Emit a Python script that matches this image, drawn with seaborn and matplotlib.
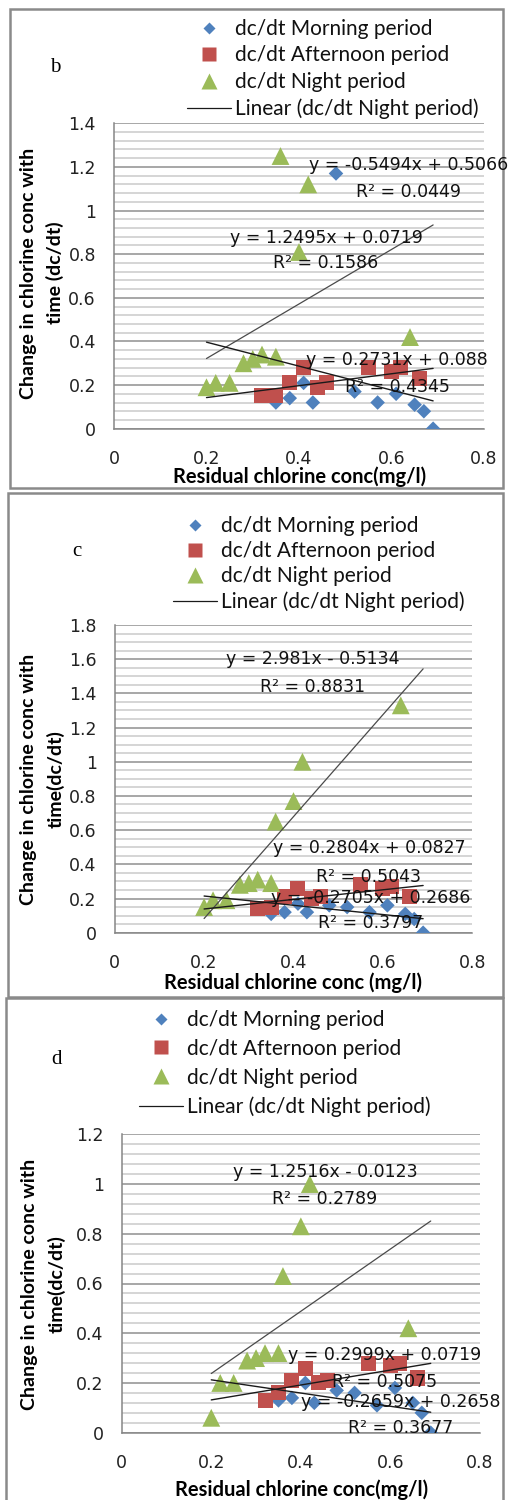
import numpy as np
import matplotlib
matplotlib.use("Agg")
import matplotlib.pyplot as plt
import seaborn as sns
from matplotlib.lines import Line2D
from matplotlib.patches import Rectangle
from matplotlib.ticker import FuncFormatter

sns.set_theme(style="white")
plt.rcParams['font.family'] = ['Lato', 'DejaVu Sans']

# ---------------- data ----------------
morning_x = [0.35, 0.38, 0.41, 0.43, 0.48, 0.52, 0.57, 0.61, 0.65, 0.67, 0.69]
afternoon_x = [0.32, 0.35, 0.38, 0.41, 0.44, 0.46, 0.55, 0.60, 0.62, 0.66]
night_x = [0.20, 0.22, 0.25, 0.28, 0.30, 0.32, 0.35, 0.36, 0.40, 0.42, 0.64]

b_morning = [0.12, 0.14, 0.21, 0.12, 1.17, 0.17, 0.12, 0.16, 0.11, 0.08, 0.00]
b_afternoon = [0.15, 0.15, 0.21, 0.28, 0.19, 0.21, 0.28, 0.26, 0.28, 0.23]
b_night = [0.19, 0.21, 0.21, 0.30, 0.32, 0.34, 0.33, 1.25, 0.81, 1.12, 0.42]

c_morning = [0.11, 0.12, 0.17, 0.12, 0.16, 0.15, 0.12, 0.16, 0.11, 0.08, 0.00]
c_afternoon = [0.14, 0.15, 0.21, 0.26, 0.20, 0.21, 0.28, 0.26, 0.27, 0.21]
c_night = [0.15, 0.19, 0.19, 0.28, 0.29, 0.31, 0.29, 0.65, 0.77, 1.00, 1.33]

d_morning = [0.13, 0.14, 0.20, 0.12, 0.17, 0.16, 0.11, 0.18, 0.12, 0.08, 0.00]
d_afternoon = [0.13, 0.16, 0.21, 0.26, 0.20, 0.21, 0.28, 0.27, 0.28, 0.22]
d_night = [0.06, 0.20, 0.20, 0.29, 0.30, 0.32, 0.32, 0.63, 0.83, 1.00, 0.42]

# trendline equations (slope, intercept) as printed on the chart
b_trend = {"morning": (-0.5494, 0.5066), "afternoon": (0.2731, 0.088), "night": (1.2495, 0.0719)}
c_trend = {"morning": (-0.2705, 0.2686), "afternoon": (0.2804, 0.0827), "night": (2.981, -0.5134)}
d_trend = {"morning": (-0.2659, 0.2658), "afternoon": (0.2999, 0.0719), "night": (1.2516, -0.0123)}
trend_x = [0.20, 0.69]

b_labels = [("y = -0.5494x + 0.5066", "R² = 0.0449"),
            ("y = 1.2495x + 0.0719", "R² = 0.1586"),
            ("y = 0.2731x + 0.088", "R² = 0.4345")]
c_labels = [("y = 2.981x - 0.5134", "R² = 0.8831"),
            ("y = 0.2804x + 0.0827", "R² = 0.5043"),
            ("y = -0.2705x + 0.2686", "R² = 0.3797")]
d_labels = [("y = 1.2516x - 0.0123", "R² = 0.2789"),
            ("y = 0.2999x + 0.0719", "R² = 0.5075"),
            ("y = -0.2659x + 0.2658", "R² = 0.3677")]

legend_labels = ["dc/dt Morning period", "dc/dt Afternoon period",
                 "dc/dt Night period", "Linear (dc/dt Night period)"]
x_ticks = [0, 0.2, 0.4, 0.6, 0.8]

BLUE = "#4F81BD"
RED = "#C0504D"
GREEN = "#9BBB59"

W, H = 512, 1500
fig = plt.figure(figsize=(W / 100, H / 100), dpi=100)


def px_rect(x0, y0, x1, y1):
    return [x0 / W, 1 - y1 / H, (x1 - x0) / W, (y1 - y0) / H]


def ftext(x, y, s, **kw):
    fig.text(x / W, 1 - y / H, s, **kw)


panels = [
    dict(letter="b", rect=(114, 123.3, 484, 428.7), ymax=1.4, minor=0.04,
         m=b_morning, a=b_afternoon, n=b_night, tr=b_trend, labels=b_labels,
         label_pos=[(409, 165, 192), (326, 238, 263), (397, 360, 387)],
         frame=(10, 9, 503, 488), letter_pos=(55, 68),
         leg=(187, 19, 0.31), ylab="Change in chlorine conc with\ntime (dc/dt)",
         ylab_pos=(42, 273), xlab="Residual chlorine conc(mg/l)", xlab_pos=(300, 477)),
    dict(letter="c", rect=(114.7, 625, 472.3, 932.7), ymax=1.8, minor=0.05,
         m=c_morning, a=c_afternoon, n=c_night, tr=c_trend, labels=c_labels,
         label_pos=[(313, 659, 687), (369, 848, 877), (371, 898, 923)],
         frame=(8, 493, 503, 997), letter_pos=(77, 552),
         leg=(173, 516, 0.25), ylab="Change in chlorine conc with\ntime(dc/dt)",
         ylab_pos=(42, 779), xlab="Residual chlorine conc (mg/l)", xlab_pos=(293, 983)),
    dict(letter="d", rect=(121.7, 1134.3, 480, 1432.7), ymax=1.2, minor=0.04,
         m=d_morning, a=d_afternoon, n=d_night, tr=d_trend, labels=d_labels,
         label_pos=[(325, 1172, 1199), (385, 1355, 1382), (401, 1402, 1428)],
         frame=(6, 998, 503, 1510), letter_pos=(57, 1060),
         leg=(139, 1010, 0.42), ylab="Change in chlorine conc with\ntime(dc/dt)",
         ylab_pos=(43, 1284), xlab="Residual chlorine conc(mg/l)", xlab_pos=(302, 1490)),
]

fmt = FuncFormatter(lambda v, p: f"{v:g}")
NUMFONT = ["DejaVu Sans"]

for P in panels:
    fx0, fy0, fx1, fy1 = P["frame"]
    fig.add_artist(Rectangle((fx0 / W, 1 - fy1 / H), (fx1 - fx0) / W, (fy1 - fy0) / H,
                             transform=fig.transFigure, fill=False,
                             edgecolor="#8a8a8a", lw=1.8, zorder=0))
    ax = fig.add_axes(px_rect(*P["rect"]))
    ax.set_facecolor("none")

    sns.scatterplot(x=morning_x, y=P["m"], marker="D", s=55, color=BLUE,
                    edgecolor="none", ax=ax, legend=False, zorder=3)
    sns.scatterplot(x=afternoon_x, y=P["a"], marker="s", s=117, color=RED,
                    edgecolor="none", ax=ax, legend=False, zorder=3)
    sns.scatterplot(x=night_x, y=P["n"], marker="^", s=165, color=GREEN,
                    edgecolor="none", ax=ax, legend=False, zorder=3)

    tx = np.array(trend_x)
    for key, col, lw in [("night", "#4a4a4a", 0.9), ("morning", "#1a1a1a", 1.0),
                         ("afternoon", "#1a1a1a", 1.0)]:
        k, b0 = P["tr"][key]
        ax.plot(tx, k * tx + b0, color=col, lw=lw, zorder=4)

    ax.set_xlim(0, 0.8)
    ax.set_ylim(0, P["ymax"])
    ax.set_xticks(x_ticks)
    ax.set_yticks(np.arange(0, P["ymax"] + 1e-9, 0.2))
    ax.set_yticks(np.arange(0, P["ymax"] + 1e-9, P["minor"]), minor=True)
    ax.xaxis.set_major_formatter(fmt)
    ax.yaxis.set_major_formatter(fmt)
    ax.grid(which="minor", axis="y", color="#d2d2d2", lw=1.3, zorder=0)
    ax.grid(which="major", axis="y", color="#8f8f8f", lw=1.1, zorder=0)
    ax.grid(False, axis="x", which="both")
    ax.set_axisbelow(True)
    for s in ["top", "right"]:
        ax.spines[s].set_visible(False)
    for s in ["left", "bottom"]:
        ax.spines[s].set_color("#868686")
        ax.spines[s].set_linewidth(1.1)
    ax.tick_params(which="major", direction="out", length=5, width=1.0,
                   color="#868686", labelsize=12.5, labelcolor="#222222")
    ax.tick_params(axis="y", pad=8)
    ax.tick_params(axis="x", pad=10)
    ax.tick_params(which="minor", length=0)
    for t in ax.get_xticklabels() + ax.get_yticklabels():
        t.set_family(NUMFONT)
    ax.set_xlabel("")
    ax.set_ylabel("")

    for (eq, r2), (cx, y1, y2) in zip(P["labels"], P["label_pos"]):
        ftext(cx, y1, eq, ha="center", va="center", fontsize=12.5, family=NUMFONT,
              color="#111111", zorder=6)
        ftext(cx, y2, r2, ha="center", va="center", fontsize=12.5, family=NUMFONT,
              color="#111111", zorder=6)

    ftext(*P["letter_pos"], P["letter"], ha="center", va="center", fontsize=15,
          family="Liberation Serif", color="black")
    ftext(*P["ylab_pos"], P["ylab"], ha="center", va="center", rotation=90,
          fontsize=14, fontweight="bold", color="black", linespacing=1.65)
    ftext(*P["xlab_pos"], P["xlab"], ha="center", va="center",
          fontsize=14.5, fontweight="bold", color="black")

    handles = [
        Line2D([], [], marker="D", ls="none", color=BLUE, mec="none", ms=6.5),
        Line2D([], [], marker="s", ls="none", color=RED, mec="none", ms=10),
        Line2D([], [], marker="^", ls="none", color=GREEN, mec="none", ms=11),
        Line2D([], [], color="#1a1a1a", lw=0.9),
    ]
    lx, ly, lsp = P["leg"]
    fig.legend(handles, legend_labels, loc="upper left",
               bbox_to_anchor=(lx / W, 1 - ly / H), frameon=False,
               handlelength=2.1, handletextpad=0.2, labelspacing=lsp,
               borderpad=0, borderaxespad=0, fontsize=15,
               labelcolor="#111111")

fig.savefig("out.png", dpi=100)
